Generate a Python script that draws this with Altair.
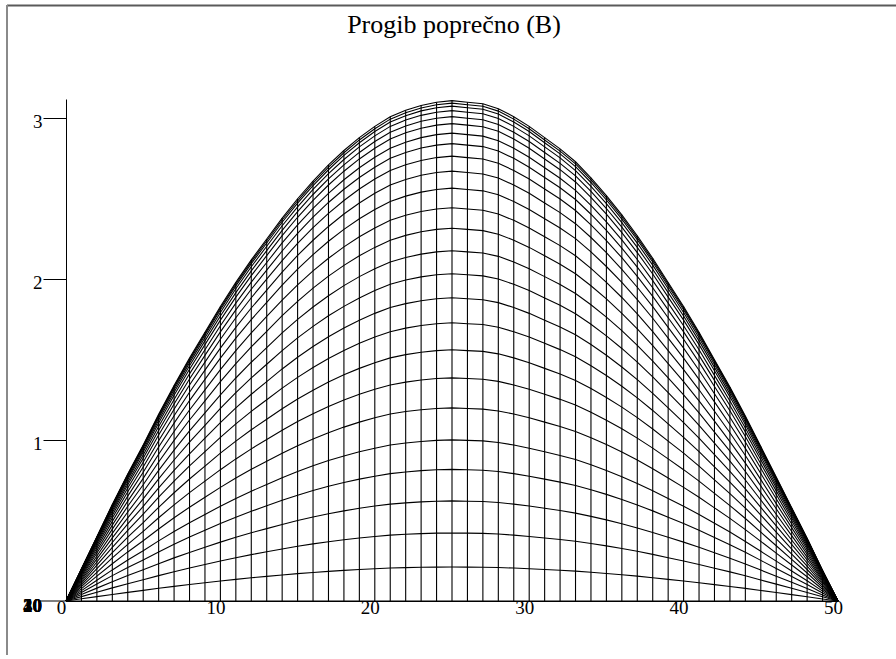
import altair as alt
import pandas as pd

# Grid stations along the span (0..50)
x_pos = list(range(51))

# Deflection of the central strip at each station
top_profile = [
    0.00, 0.20, 0.40, 0.60, 0.79, 0.97, 1.16, 1.34, 1.51, 1.67,
    1.83, 1.98, 2.12, 2.25, 2.38, 2.50, 2.61, 2.71, 2.80, 2.88,
    2.95, 3.01, 3.05, 3.08, 3.10, 3.11, 3.10, 3.09, 3.06, 3.01,
    2.95, 2.88, 2.81, 2.73, 2.63, 2.52, 2.40, 2.27, 2.13, 1.98,
    1.83, 1.67, 1.50, 1.33, 1.15, 0.96, 0.77, 0.58, 0.39, 0.19,
    0.00,
]

# Relative deflection of each longitudinal strip (edge -> centre)
strip_ratio = [
    0.000, 0.068, 0.136, 0.200, 0.263, 0.322, 0.386, 0.446, 0.502, 0.556,
    0.606, 0.654, 0.700, 0.745, 0.786, 0.825, 0.859, 0.889, 0.914, 0.935,
    0.954, 0.968, 0.980, 0.989, 0.995, 1.000,
]

y_ticks = [1, 2, 3]
x_ticks = [0, 10, 20, 30, 40, 50]
depth_labels = ["10", "20", "30", "40"]
title_text = "Progib poprečno (B)"

rows = []
for j, r in enumerate(strip_ratio):
    for xi, t in zip(x_pos, top_profile):
        rows.append({"x": xi, "w": t * r, "strip": j})
mesh = pd.DataFrame(rows)
stations = pd.DataFrame({"x": x_pos, "top": top_profile, "base": [0.0] * len(x_pos)})

W, H = 772, 502
FONT = "Liberation Serif"

xs = alt.Scale(domain=[0, 50], nice=False, zero=False)
ys = alt.Scale(domain=[0, 3.12], nice=False, zero=False)

x_axis = alt.Axis(
    values=x_ticks, ticks=False, tickSize=0, grid=False, title=None,
    domainColor="black", domainWidth=1, format="d", labelFlush=False,
    labelFont=FONT, labelFontSize=19, labelColor="black",
    labelPadding=-3, labelOffset=-5, labelAngle=0,
)
y_axis = alt.Axis(
    values=y_ticks, tickSize=23, tickColor="black", tickWidth=1, grid=False,
    title=None, domainColor="black", domainWidth=1, format="d",
    labelFont=FONT, labelFontSize=19, labelColor="black",
    labelPadding=1, labelOffset=3,
)

# Longitudinal strips of the deflected mesh
strips = alt.Chart(mesh).mark_line(color="black", strokeWidth=1.1).encode(
    x=alt.X("x:Q", scale=xs, axis=x_axis),
    y=alt.Y("w:Q", scale=ys, axis=y_axis),
    detail="strip:N",
)

# Transverse mesh lines seen edge-on
cross = alt.Chart(stations).mark_rule(color="black", strokeWidth=1.1).encode(
    x=alt.X("x:Q", scale=xs),
    y=alt.Y("base:Q", scale=ys),
    y2="top:Q",
)

one = pd.DataFrame({"k": [0]})

# Depth-axis ticks, all collapsing onto one point in this view
depth_tick = alt.Chart(one).mark_rule(color="black", strokeWidth=1).encode(
    x=alt.value(-26), x2=alt.value(0), y=alt.value(H)
)
depth_text = alt.Chart(pd.DataFrame({"lab": depth_labels})).mark_text(
    font=FONT, fontSize=19, fontWeight="bold", align="right", baseline="middle",
    color="black",
).encode(x=alt.value(-24), y=alt.value(H + 5), text="lab:N")

title = alt.Chart(one).mark_text(
    font=FONT, fontSize=26, align="center", baseline="alphabetic", color="black",
).encode(x=alt.value(388), y=alt.value(-66), text=alt.value(title_text))

# Outer frame (top and left edges)
frame_top = alt.Chart(one).mark_rule(color="#5a5a5a", strokeWidth=2).encode(
    x=alt.value(-59), x2=alt.value(830), y=alt.value(-93.5)
)
frame_left = alt.Chart(one).mark_rule(color="#8a8a8a", strokeWidth=2).encode(
    x=alt.value(-59), y=alt.value(-94), y2=alt.value(556)
)

chart = alt.layer(
    cross, strips, depth_tick, depth_text, title, frame_top, frame_left
).properties(
    width=W, height=H,
    view=alt.ViewBackground(stroke="transparent", strokeWidth=0),
    autosize=alt.AutoSizeParams(type="none"),
    padding={"left": 66, "top": 99, "right": 58, "bottom": 54},
).configure_view(stroke="transparent", strokeWidth=0).configure(background="white")

chart.save("out.html", embed_options={"renderer": "svg", "actions": False})
